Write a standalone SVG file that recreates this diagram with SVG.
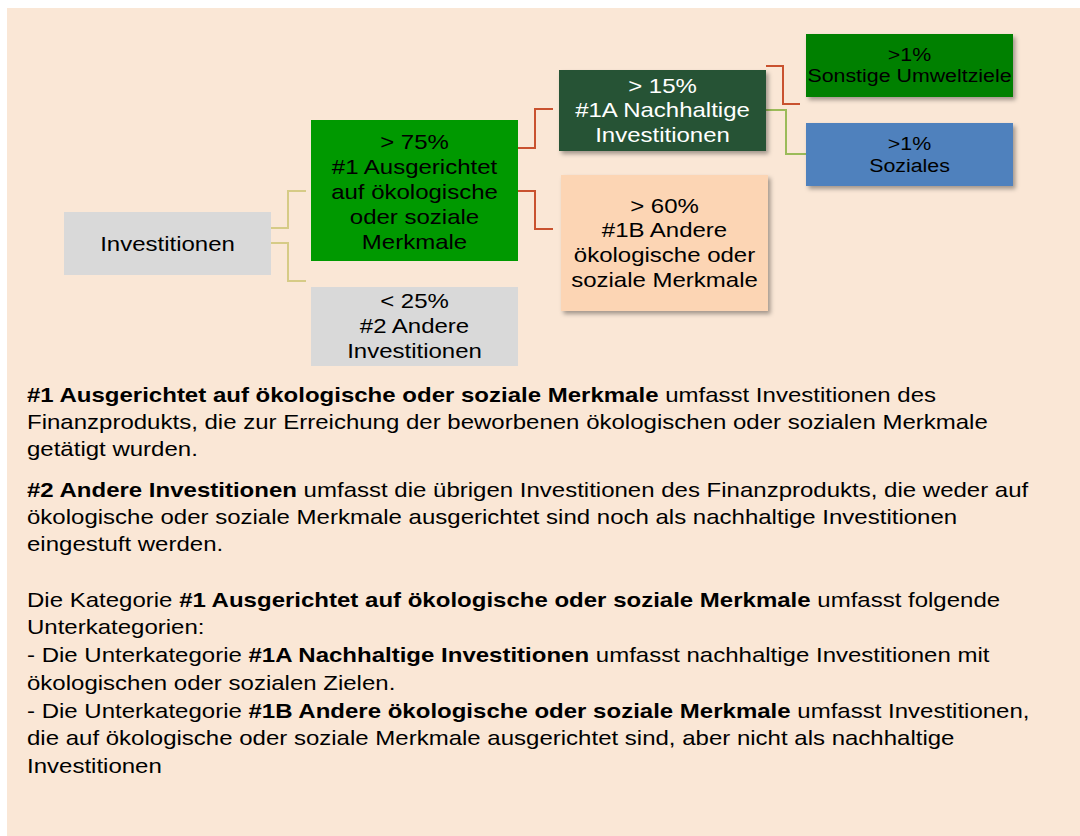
<svg xmlns="http://www.w3.org/2000/svg" width="1080" height="836" viewBox="0 0 1080 836">
<style>
.node text{font-family:"Liberation Sans",Arial,sans-serif;font-size:20px;fill:#000}
.small text{font-size:17.8px}
.notes{font-family:"Liberation Sans",Arial,sans-serif;font-size:19.8px;fill:#000}
.b{font-weight:bold}
.conn path{fill:none;stroke-width:2}
</style>
<defs>
<filter id="sh" x="-10%" y="-10%" width="125%" height="135%">
<feDropShadow dx="2.5" dy="3" stdDeviation="2" flood-color="#000" flood-opacity="0.35"/>
</filter>
</defs>
<rect x="7" y="8" width="1073" height="828" fill="#fae7d6"/>
<g id="connectors" class="conn">
<path d="M271,228 H288 V191 H306" stroke="#d6cb86"/>
<path d="M271,243 H288 V281 H306" stroke="#d6cb86"/>
<path d="M518,148 H535 V109 H553" stroke="#c9522f"/>
<path d="M518,191 H535 V229 H553" stroke="#c9522f"/>
<path d="M766,66 H783 V104 H800" stroke="#c9522f"/>
<path d="M766,110 H786 V154 H806" stroke="#9bbb59"/>
</g>
<g id="n-investitionen" class="node">
<rect x="64" y="212" width="207" height="63" fill="#d9d9d9"/>
<text transform="translate(167.5,0) scale(1.2,1)" text-anchor="middle"><tspan x="0" y="251">Investitionen</tspan></text>
</g>
<g id="n-1" class="node">
<rect x="311" y="120" width="207" height="141" fill="#009900"/>
<text transform="translate(414.5,0) scale(1.2,1)" text-anchor="middle"><tspan x="0" y="149">&gt; 75%</tspan><tspan x="0" y="174">#1 Ausgerichtet</tspan><tspan x="0" y="199">auf ökologische</tspan><tspan x="0" y="224">oder soziale</tspan><tspan x="0" y="249">Merkmale</tspan></text>
</g>
<g id="n-2" class="node">
<rect x="311" y="287" width="207" height="79" fill="#d9d9d9"/>
<text transform="translate(414.5,0) scale(1.2,1)" text-anchor="middle"><tspan x="0" y="308">&lt; 25%</tspan><tspan x="0" y="333">#2 Andere</tspan><tspan x="0" y="358">Investitionen</tspan></text>
</g>
<g id="n-1a" class="node">
<rect x="559" y="70" width="207" height="81" fill="#255336" filter="url(#sh)"/>
<text transform="translate(662.5,0) scale(1.2,1)" text-anchor="middle" style="fill:#fff"><tspan x="0" y="93">&gt; 15%</tspan><tspan x="0" y="117">#1A Nachhaltige</tspan><tspan x="0" y="142">Investitionen</tspan></text>
</g>
<g id="n-1b" class="node">
<rect x="561" y="175" width="207" height="136" fill="#fcd5b4" filter="url(#sh)"/>
<text transform="translate(664.5,0) scale(1.2,1)" text-anchor="middle"><tspan x="0" y="213">&gt; 60%</tspan><tspan x="0" y="237">#1B Andere</tspan><tspan x="0" y="262">ökologische oder</tspan><tspan x="0" y="287">soziale Merkmale</tspan></text>
</g>
<g id="n-sonstige" class="node small">
<rect x="806" y="34" width="207" height="63" fill="#008000" filter="url(#sh)"/>
<text transform="translate(909.5,0) scale(1.2,1)" text-anchor="middle"><tspan x="0" y="61">&gt;1%</tspan><tspan x="0" y="82">Sonstige Umweltziele</tspan></text>
</g>
<g id="n-soziales" class="node small">
<rect x="806" y="123" width="207" height="63" fill="#4f81bd" filter="url(#sh)"/>
<text transform="translate(909.5,0) scale(1.2,1)" text-anchor="middle"><tspan x="0" y="150">&gt;1%</tspan><tspan x="0" y="172">Soziales</tspan></text>
</g>
<g id="notes" class="notes" transform="translate(27,0) scale(1.213,1)">
<text y="402"><tspan class="b">#1 Ausgerichtet auf ökologische oder soziale Merkmale</tspan> umfasst Investitionen des</text>
<text y="429">Finanzprodukts, die zur Erreichung der beworbenen ökologischen oder sozialen Merkmale</text>
<text y="456">getätigt wurden.</text>
<text y="497"><tspan class="b">#2 Andere Investitionen</tspan> umfasst die übrigen Investitionen des Finanzprodukts, die weder auf</text>
<text y="524">ökologische oder soziale Merkmale ausgerichtet sind noch als nachhaltige Investitionen</text>
<text y="551">eingestuft werden.</text>
<text y="607">Die Kategorie <tspan class="b">#1 Ausgerichtet auf ökologische oder soziale Merkmale</tspan> umfasst folgende</text>
<text y="634">Unterkategorien:</text>
<text y="662">- Die Unterkategorie <tspan class="b">#1A Nachhaltige Investitionen</tspan> umfasst nachhaltige Investitionen mit</text>
<text y="690">ökologischen oder sozialen Zielen.</text>
<text y="718">- Die Unterkategorie <tspan class="b">#1B Andere ökologische oder soziale Merkmale</tspan> umfasst Investitionen,</text>
<text y="745">die auf ökologische oder soziale Merkmale ausgerichtet sind, aber nicht als nachhaltige</text>
<text y="773">Investitionen</text>
</g>
</svg>
